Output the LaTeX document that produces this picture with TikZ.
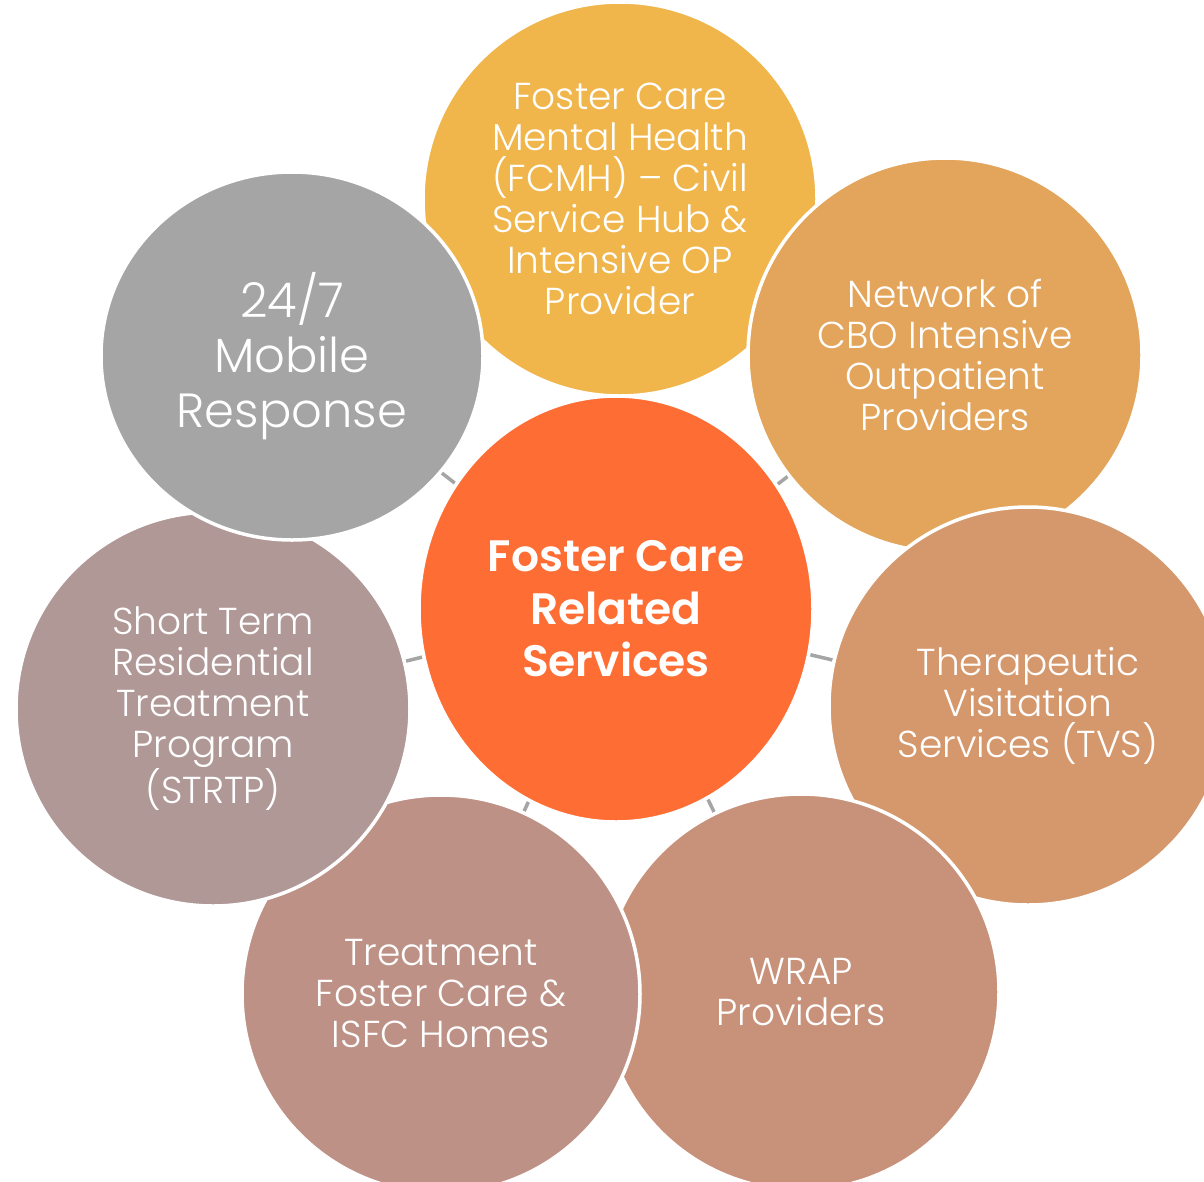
\documentclass[tikz,border=0pt]{standalone}
\usepackage{fontspec}
\setmainfont{Poppins}[UprightFont={* Light},BoldFont={* SemiBold}]
\usetikzlibrary{shapes.geometric,backgrounds}

\definecolor{hubfill}{RGB}{254,109,51}
\definecolor{fcmhfill}{RGB}{240,182,76}
\definecolor{cbofill}{RGB}{227,165,91}
\definecolor{tvsfill}{RGB}{213,152,108}
\definecolor{wrapfill}{RGB}{200,146,122}
\definecolor{tfcfill}{RGB}{189,145,134}
\definecolor{strtpfill}{RGB}{176,152,150}
\definecolor{mobilefill}{RGB}{165,165,165}
\definecolor{linkgray}{RGB}{165,165,165}

\tikzset{
    bubble/.style={ellipse, fill=#1, draw=white, line width=3.5pt,
        inner sep=0pt, align=center, text=white,
        minimum width=394pt, minimum height=394pt,
        font=\fontsize{37.5}{41}\selectfont},
    link/.style={draw=linkgray, line width=3.5pt}
}

\begin{document}
\begin{tikzpicture}[x=1pt, y=-1pt]
    % the frame
    \useasboundingbox (0,0) rectangle (1204,1181);
    % the hub
    \node[bubble=hubfill, minimum width=394pt, minimum height=426pt,
          font=\fontsize{44}{52.5}\selectfont\bfseries] (hub) at (616,609)
        {Foster Care\\Related\\Services};
    % the ring, each one over the one before
    \node[bubble=fcmhfill] (fcmh) at (620,199)
        {Foster Care\\Mental Health\\(FCMH) -- Civil\\Service Hub \&\\Intensive OP\\Provider};
    \node[bubble=cbofill] (cbo) at (945,355)
        {Network of\\CBO Intensive\\Outpatient\\Providers};
    \node[bubble=tvsfill, minimum width=398pt, minimum height=398pt] (tvs) at (1028,706)
        {Therapeutic\\Visitation\\Services (TVS)};
    \node[bubble=wrapfill, minimum width=396pt, minimum height=396pt] (wrap) at (801,992)
        {WRAP\\Providers};
    \node[bubble=tfcfill, minimum width=398pt, minimum height=398pt] (tfc) at (441,994)
        {Treatment\\Foster Care \&\\ISFC Homes};
    \node[bubble=strtpfill] (strtp) at (213,709)
        {Short Term\\Residential\\Treatment\\Program\\(STRTP)};
    \node[bubble=mobilefill, minimum width=382pt, minimum height=368pt,
          font=\fontsize{48}{55}\selectfont] (mobile) at (292,356)
        {24/7\\Mobile\\Response};

    % the links, under everything
    \begin{scope}[on background layer]
        \fill[white] (0,0) rectangle (1204,1181);
        \foreach \n in {fcmh,cbo,tvs,wrap,tfc,strtp,mobile} {
            \draw[link] (hub) -- (\n);
        };
    \end{scope}
\end{tikzpicture}
\end{document}
